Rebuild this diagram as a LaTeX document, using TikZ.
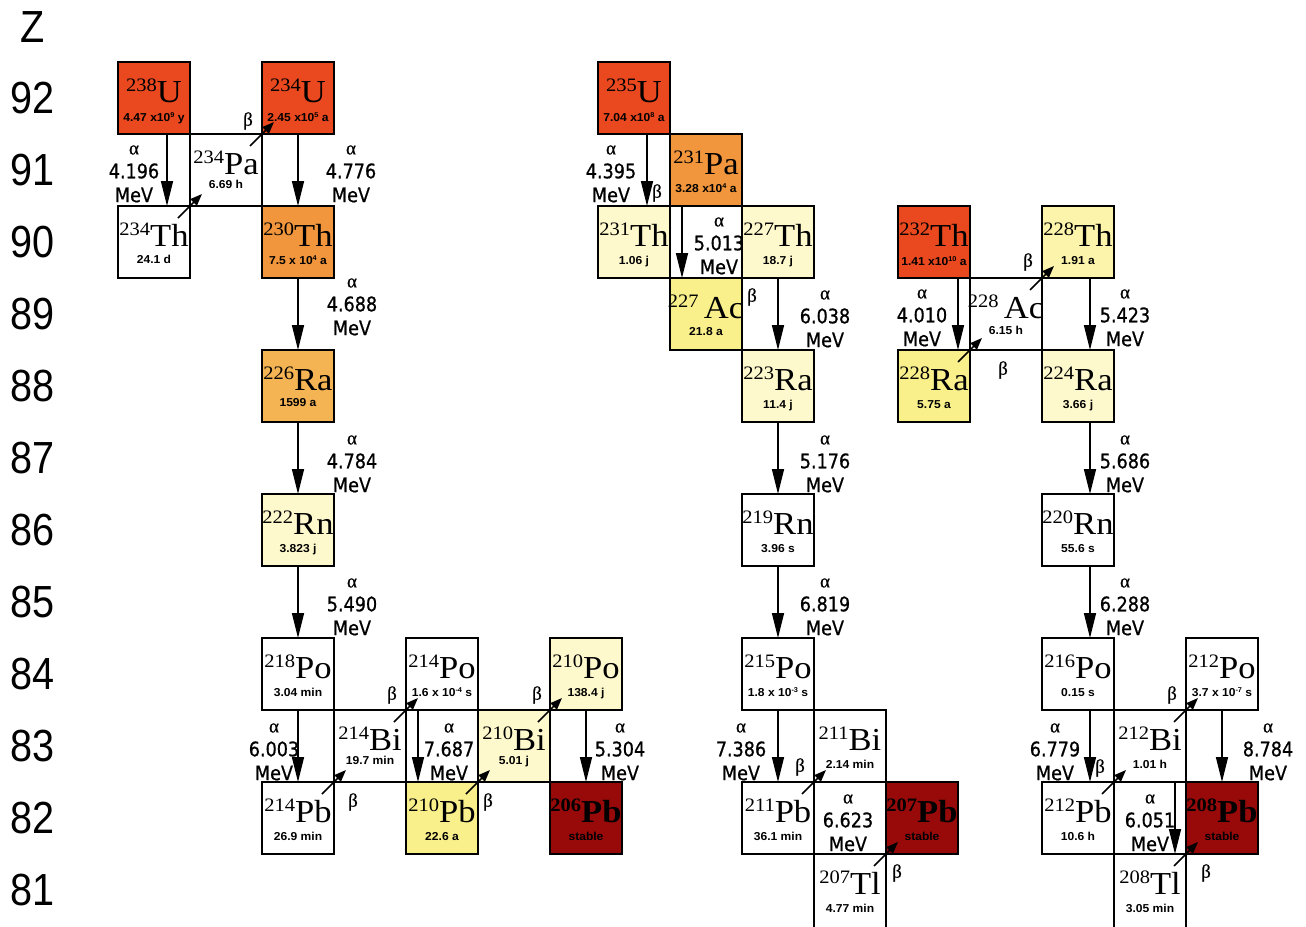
\documentclass[tikz,border=0pt]{standalone}
\usepackage{fontspec}
\usetikzlibrary{arrows.meta}
\setmainfont{Liberation Serif}
\newfontfamily\symfont[FakeStretch=1.08]{Liberation Serif}
\newfontfamily\hlfont[FakeStretch=1.05]{Liberation Sans}
\newfontfamily\enfont[FakeStretch=0.88,FakeBold=0.8]{DejaVu Sans}
\newfontfamily\grfont[FakeBold=0.6]{Liberation Serif}
\newfontfamily\zfont[FakeStretch=0.88]{Liberation Sans}
\definecolor{cRed}{RGB}{234,72,30}
\definecolor{cOrange}{RGB}{241,150,60}
\definecolor{cLOrange}{RGB}{244,180,84}
\definecolor{cYellow}{RGB}{249,240,140}
\definecolor{cLYellow}{RGB}{252,244,170}
\definecolor{cPale}{RGB}{254,249,205}
\definecolor{cDark}{RGB}{152,10,10}
\tikzset{
  nbox/.style={draw=black, line width=1.6pt, minimum width=72pt, minimum height=72pt, inner sep=0pt, outer sep=0pt},
  tlbox/.style={minimum height=80pt, yshift=-4pt},
  symtxt/.style={anchor=base, inner sep=0pt},
  hltxt/.style={anchor=base, inner sep=0pt, font={\hlfont\bfseries\fontsize{11.5}{12}\selectfont}},
  alphaarr/.style={line width=1.6pt, -{Triangle[width=12pt,length=25pt]}},
  betaarr/.style={line width=1.6pt, -{Triangle[width=9pt,length=12pt]}},
  entxt/.style={inner sep=0pt, font={\enfont\fontsize{20}{20}\selectfont}},
  grtxt/.style={inner sep=0pt, font={\grfont\fontsize{19}{19}\selectfont}},
  ztxt/.style={inner sep=0pt, font={\zfont\fontsize{45}{45}\selectfont}}
}
\newcommand{\sps}[1]{\raisebox{4pt}{\fontsize{7}{7}\selectfont #1}}
\newcommand{\nuc}[9][]{%
  \node[nbox, fill=#5, #1] (#2) at ({#3+36},{62+72*(92-#4)+36}) {};
  \node[symtxt] (#2-s) at ({#3+36},{62+72*(92-#4)+40}) {\symfont\fontsize{19}{19}\selectfont\raisebox{11pt}{#6}\fontsize{32}{32}\selectfont #7};
  \node[hltxt] (#2-h) at ({#3+36},{62+72*(92-#4)+#9}) {#8};
}
\newcommand{\elab}[4]{%
  \node[grtxt] (#1-a) at (#2,{#3-21}) {α};
  \node[entxt] (#1-n) at (#2,#3) {#4};
  \node[entxt] (#1-m) at (#2,{#3+24}) {MeV};
}
\begin{document}
\begin{tikzpicture}[x=1pt,y=-1pt]
\fill[white] (0,0) rectangle (1306,926);
\useasboundingbox (0,0) rectangle (1306,926);
% Z axis
\node[ztxt] (zz) at (33,27) {Z};
\foreach \z in {81,...,92} \node[ztxt] (z\z) at (33,{62+72*(92-\z)+36}) {\z};
% Uranium series
\nuc{u238}{118}{92}{cRed}{238}{U}{4.47 x10\sps{9} y}{59}
\nuc{pa234}{190}{91}{white}{234}{Pa}{6.69 h}{54}
\nuc{u234}{262}{92}{cRed}{234}{U}{2.45 x10\sps{5} a}{59}
\nuc{th234}{118}{90}{white}{234}{Th}{24.1 d}{57}
\nuc{th230}{262}{90}{cOrange}{230}{Th}{7.5 x 10\sps{4} a}{58}
\nuc{ra226}{262}{88}{cLOrange}{226}{Ra}{1599 a}{56}
\nuc{rn222}{262}{86}{cPale}{222}{Rn}{3.823 j}{58}
\nuc{po218}{262}{84}{white}{218}{Po}{3.04 min}{58}
\nuc{pb214}{262}{82}{white}{214}{Pb}{26.9 min}{58}
\nuc{bi214}{334}{83}{white}{214}{Bi}{19.7 min}{54}
\nuc{po214}{406}{84}{white}{214}{Po}{1.6 x 10\sps{-4} s}{58}
\nuc{pb210}{406}{82}{cYellow}{210}{Pb}{22.6 a}{58}
\nuc{bi210}{478}{83}{cPale}{210}{Bi}{5.01 j}{54}
\nuc{po210}{550}{84}{cPale}{210}{Po}{138.4 j}{58}
\nuc{pb206}{550}{82}{cDark}{\bfseries 206}{\bfseries Pb}{stable}{58}
% Actinium series
\nuc{u235}{598}{92}{cRed}{235}{U}{7.04 x10\sps{8} a}{59}
\nuc{th231}{598}{90}{cPale}{231}{Th}{1.06 j}{58}
\nuc{pa231}{670}{91}{cOrange}{231}{Pa}{3.28 x10\sps{4} a}{58}
\nuc{ac227}{670}{89}{cYellow}{227}{\,Ac}{21.8 a}{57}
\nuc{th227}{742}{90}{cPale}{227}{Th}{18.7 j}{58}
\nuc{ra223}{742}{88}{cPale}{223}{Ra}{11.4 j}{58}
\nuc{rn219}{742}{86}{white}{219}{Rn}{3.96 s}{58}
\nuc{po215}{742}{84}{white}{215}{Po}{1.8 x 10\sps{-3} s}{58}
\nuc{pb211}{742}{82}{white}{211}{Pb}{36.1 min}{58}
\nuc{bi211}{814}{83}{white}{211}{Bi}{2.14 min}{58}
\nuc{pb207}{886}{82}{cDark}{\bfseries 207}{\bfseries Pb}{stable}{58}
\nuc[tlbox]{tl207}{814}{81}{white}{207}{Tl}{4.77 min}{58}
% Thorium series
\nuc{th232}{898}{90}{cRed}{232}{Th}{1.41 x10\sps{10} a}{59}
\nuc{ac228}{970}{89}{white}{228}{\,Ac}{6.15 h}{56}
\nuc{th228}{1042}{90}{cLYellow}{228}{Th}{1.91 a}{58}
\nuc{ra228}{898}{88}{cYellow}{228}{Ra}{5.75 a}{58}
\nuc{ra224}{1042}{88}{cPale}{224}{Ra}{3.66 j}{58}
\nuc{rn220}{1042}{86}{white}{220}{Rn}{55.6 s}{58}
\nuc{po216}{1042}{84}{white}{216}{Po}{0.15 s}{58}
\nuc{pb212}{1042}{82}{white}{212}{Pb}{10.6 h}{58}
\nuc{bi212}{1114}{83}{white}{212}{Bi}{1.01 h}{58}
\nuc{po212}{1186}{84}{white}{212}{Po}{3.7 x 10\sps{-7} s}{58}
\nuc{pb208}{1186}{82}{cDark}{\bfseries 208}{\bfseries Pb}{stable}{58}
\nuc[tlbox]{tl208}{1114}{81}{white}{208}{Tl}{3.05 min}{58}
% alpha decays
\draw[alphaarr] ([xshift=13pt]u238.south) -- ([xshift=13pt]th234.north);
\draw[alphaarr] (u234.south) -- (th230.north);
\draw[alphaarr] (th230.south) -- (ra226.north);
\draw[alphaarr] (ra226.south) -- (rn222.north);
\draw[alphaarr] (rn222.south) -- (po218.north);
\draw[alphaarr] (po218.south) -- (pb214.north);
\draw[alphaarr] ([xshift=-24pt]po214.south) -- ([xshift=-24pt]pb210.north);
\draw[alphaarr] (po210.south) -- (pb206.north);
\draw[alphaarr] ([xshift=13pt]u235.south) -- ([xshift=13pt]th231.north);
\draw[alphaarr] ([xshift=-24pt]pa231.south) -- ([xshift=-24pt]ac227.north);
\draw[alphaarr] (th227.south) -- (ra223.north);
\draw[alphaarr] (ra223.south) -- (rn219.north);
\draw[alphaarr] (rn219.south) -- (po215.north);
\draw[alphaarr] (po215.south) -- (pb211.north);
\draw[alphaarr] ([xshift=24pt]th232.south) -- ([xshift=24pt]ra228.north);
\draw[alphaarr] ([xshift=12pt]th228.south) -- ([xshift=12pt]ra224.north);
\draw[alphaarr] ([xshift=12pt]ra224.south) -- ([xshift=12pt]rn220.north);
\draw[alphaarr] ([xshift=12pt]rn220.south) -- ([xshift=12pt]po216.north);
\draw[alphaarr] ([xshift=12pt]po216.south) -- ([xshift=12pt]pb212.north);
\draw[alphaarr] (po212.south) -- (pb208.north);
\draw[alphaarr] ([xshift=25pt]bi212.south) -- ([xshift=25pt]tl208.north);
% beta decays
\draw[betaarr] ([shift={(-12,12)}]th234.north east) -- ([shift={(12,-12)}]pa234.south west);
\draw[betaarr] ([shift={(-12,12)}]pa234.north east) -- ([shift={(12,-12)}]u234.south west);
\draw[betaarr] ([shift={(-12,12)}]pb214.north east) -- ([shift={(12,-12)}]bi214.south west);
\draw[betaarr] ([shift={(-12,12)}]bi214.north east) -- ([shift={(12,-12)}]po214.south west);
\draw[betaarr] ([shift={(-12,12)}]pb210.north east) -- ([shift={(12,-12)}]bi210.south west);
\draw[betaarr] ([shift={(-12,12)}]bi210.north east) -- ([shift={(12,-12)}]po210.south west);
\draw[betaarr] ([shift={(-12,12)}]pb211.north east) -- ([shift={(12,-12)}]bi211.south west);
\draw[betaarr] ([shift={(-12,12)}]tl207.north east) -- ([shift={(12,-12)}]pb207.south west);
\draw[betaarr] ([shift={(-12,12)}]ra228.north east) -- ([shift={(12,-12)}]ac228.south west);
\draw[betaarr] ([shift={(-12,12)}]ac228.north east) -- ([shift={(12,-12)}]th228.south west);
\draw[betaarr] ([shift={(-12,12)}]pb212.north east) -- ([shift={(12,-12)}]bi212.south west);
\draw[betaarr] ([shift={(-12,12)}]bi212.north east) -- ([shift={(12,-12)}]po212.south west);
\draw[betaarr] ([shift={(-12,12)}]tl208.north east) -- ([shift={(12,-12)}]pb208.south west);
% alpha energy labels
\elab{e1}{134}{171}{4.196}
\elab{e2}{351}{171}{4.776}
\elab{e3}{352}{304}{4.688}
\elab{e4}{352}{461}{4.784}
\elab{e5}{352}{604}{5.490}
\elab{e6}{274}{749}{6.003}
\elab{e7}{449}{749}{7.687}
\elab{e8}{620}{749}{5.304}
\elab{e9}{611}{171}{4.395}
\elab{e10}{719}{243}{5.013}
\elab{e11}{825}{316}{6.038}
\elab{e12}{825}{461}{5.176}
\elab{e13}{825}{604}{6.819}
\elab{e14}{741}{749}{7.386}
\elab{e15}{848}{820}{6.623}
\elab{e16}{922}{315}{4.010}
\elab{e17}{1125}{315}{5.423}
\elab{e18}{1125}{461}{5.686}
\elab{e19}{1125}{604}{6.288}
\elab{e20}{1055}{749}{6.779}
\elab{e21}{1268}{749}{8.784}
\elab{e22}{1150}{820}{6.051}
% beta labels
\node[grtxt] (b1) at (248,121) {β};
\node[grtxt] (b2) at (353,802) {β};
\node[grtxt] (b3) at (392,695) {β};
\node[grtxt] (b4) at (488,802) {β};
\node[grtxt] (b5) at (537,695) {β};
\node[grtxt] (b6) at (657,193) {β};
\node[grtxt] (b7) at (752,297) {β};
\node[grtxt] (b8) at (800,767) {β};
\node[grtxt] (b9) at (897,873) {β};
\node[grtxt] (b10) at (1003,370) {β};
\node[grtxt] (b11) at (1028,262) {β};
\node[grtxt] (b12) at (1100,768) {β};
\node[grtxt] (b13) at (1172,695) {β};
\node[grtxt] (b14) at (1206,873) {β};
\end{tikzpicture}
\end{document}
